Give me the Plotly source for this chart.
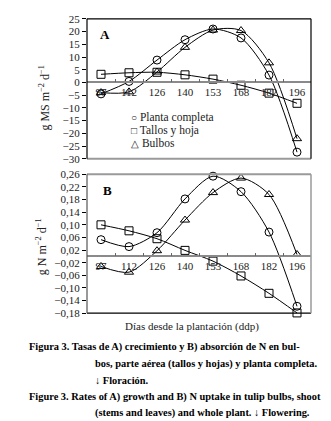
import plotly.graph_objects as go

# ---------------- data ----------------
days = ["97", "112", "126", "140", "153", "168", "182", "196"]
series_names = ["Planta completa", "Tallos y hoja", "Bulbos"]
legend_glyphs = ["○", "□", "△"]
symbols = ["circle-open", "square-open", "triangle-up-open"]

# Panel A: growth rate (g MS m-2 d-1)
planta_A = [-4.5, 0.4, 8.8, 16.8, 21.0, 17.5, 2.9, -27.4]
tallos_A = [3.2, 3.8, 4.0, 3.0, 1.3, -1.1, -4.2, -8.2]
bulbos_A = [-4.0, -3.7, 4.1, 13.8, 20.6, 20.4, 7.7, -22.1]

# Panel B: N uptake rate (g N m-2 d-1)
planta_B = [0.053, 0.031, 0.075, 0.182, 0.254, 0.205, 0.077, -0.158]
tallos_B = [0.100, 0.081, 0.056, 0.019, -0.015, -0.062, -0.117, -0.179]
bulbos_B = [-0.032, -0.050, 0.018, 0.115, 0.202, 0.248, 0.196, 0.006]

ticks_A = [25, 20, 15, 10, 5, 0, -5, -10, -15, -20, -25, -30]
ticks_B = [0.26, 0.22, 0.18, 0.14, 0.10, 0.06, 0.02, -0.02, -0.06, -0.10, -0.14, -0.18]
flowering_days = ["126", "140"]
flowering_A = [10.6, 19.0]
flowering_B = [0.091, 0.202]

W, H = 331, 421
FONT = "Liberation Serif, Times New Roman, serif"


def px(x):
    return x / W


def py(y):
    return 1 - y / H


def fmt_A(v):
    return ("−" + str(abs(v))) if v < 0 else str(v)


def fmt_B(v):
    s = "%.2f" % abs(v)
    s = s.replace(".", ",")
    return ("−" + s) if v < 0 else s


xdom = [px(79), px(303)]
ydomA = [py(149), py(5)]
ydomB = [py(308), py(165)]
rangeA = [-30, 25]
rangeB = [-0.18, 0.26]

fig = go.Figure()

panels = [
    ("x", "y", [planta_A, tallos_A, bulbos_A]),
    ("x2", "y2", [planta_B, tallos_B, bulbos_B]),
]
for xa, ya, series in panels:
    for name, sym, vals in zip(series_names, symbols, series):
        fig.add_trace(go.Scatter(
            x=days, y=vals, name=name, xaxis=xa, yaxis=ya,
            mode="lines+markers", line=dict(color="black", width=1, shape="spline", smoothing=0.8),
            marker=dict(symbol=sym, size=8, color="black", line=dict(width=1, color="black")),
            showlegend=False, cliponaxis=False,
        ))


def zero_pos(dom, rng):
    return dom[0] + (0 - rng[0]) / (rng[1] - rng[0]) * (dom[1] - dom[0])


xcommon = dict(
    type="category", categoryorder="array", categoryarray=days, range=[-0.5, 7.5],
    domain=xdom, anchor="free", showline=True, linecolor="#8a8a8a", linewidth=1.5,
    tickson="boundaries", ticks="inside", ticklen=3, tickcolor="#666",
    tickfont=dict(family=FONT, size=11, color="#222"), showgrid=False, zeroline=False,
)
fig.update_layout(
    xaxis=dict(**xcommon, position=zero_pos(ydomA, rangeA)),
    xaxis2=dict(**xcommon, position=zero_pos(ydomB, rangeB)),
    yaxis=dict(domain=ydomA, range=rangeA, anchor="x", tickvals=ticks_A,
               ticktext=[fmt_A(v) for v in ticks_A], ticks="outside", ticklen=4,
               tickcolor="black", showline=False, showgrid=False, zeroline=False,
               tickfont=dict(family=FONT, size=11, color="#222")),
    yaxis2=dict(domain=ydomB, range=rangeB, anchor="x2", tickvals=ticks_B,
                ticktext=[fmt_B(v) for v in ticks_B], ticks="outside", ticklen=4,
                tickcolor="black", showline=False, showgrid=False, zeroline=False,
                tickfont=dict(family=FONT, size=11, color="#222")),
)

shapes = []


def frame(xref, yref, top, bottom, left, right):
    out = []
    for (x0, y0, x1, y1), (c, w) in [
        ((0, 1, 1, 1), top), ((0, 0, 1, 0), bottom),
        ((0, 0, 0, 1), left), ((1, 0, 1, 1), right)]:
        out.append(dict(type="line", xref=xref + " domain", yref=yref + " domain",
                        x0=x0, y0=y0, x1=x1, y1=y1, line=dict(color=c, width=w)))
    return out


shapes += frame("x", "y", ("black", 1.2), ("#9a9a9a", 2), ("black", 1.2), ("black", 1.2))
shapes += frame("x2", "y2", ("#9a9a9a", 2), ("black", 1.2), ("#555", 1.2), ("#9a9a9a", 1.5))

annotations = []
# flowering arrows
for d, v in zip(flowering_days, flowering_A):
    annotations.append(dict(x=d, y=v, xref="x", yref="y", text="", showarrow=True,
                            ax=0, ay=-16, arrowhead=2, arrowsize=1.1, arrowwidth=1.6,
                            arrowcolor="black"))
for d, v in zip(flowering_days, flowering_B):
    annotations.append(dict(x=d, y=v, xref="x2", yref="y2", text="", showarrow=True,
                            ax=0, ay=-16, arrowhead=2, arrowsize=1.1, arrowwidth=1.6,
                            arrowcolor="black"))


def label(x, y, text, size, xanchor="center", angle=0, color="#222"):
    annotations.append(dict(x=px(x), y=py(y), xref="paper", yref="paper", text=text,
                            showarrow=False, xanchor=xanchor, yanchor="middle",
                            textangle=angle, font=dict(family=FONT, size=size, color=color)))


# panel letters
label(97, 21, "<b>A</b>", 13, color="black")
label(99, 182, "<b>B</b>", 13, color="black")

# legend (text glyph legend)
for i, (g, n) in enumerate(zip(legend_glyphs, series_names)):
    label(121, 107 + 13 * i,
          "<span style='font-size:10px'>" + g + "</span> " + n, 11.5, xanchor="left")

# axis titles
label(37, 86, "g MS m<sup>−2</sup> d<sup>−1</sup>", 12, angle=-90)
label(33, 240, "g N m<sup>−2</sup> d<sup>−1</sup>", 12, angle=-90)
label(184, 322, "Días desde la plantación (ddp)", 11)

# caption
caption = [
    (19, 343, "Figura 3. Tasas de A) crecimiento y B) absorción de N en bul-"),
    (85, 360, "bos, parte aérea (tallos y hojas) y planta completa."),
    (85, 377, "↓ Floración."),
    (19, 394, "Figure 3. Rates of A) growth and B) N uptake in tulip bulbs, shoot"),
    (85, 411, "(stems and leaves) and whole plant. ↓ Flowering."),
]
for x, y, t in caption:
    label(x, y, "<b>" + t + "</b>", 10.4, xanchor="left", color="black")

fig.update_layout(
    width=W, height=H, margin=dict(l=0, r=0, t=0, b=0),
    paper_bgcolor="white", plot_bgcolor="white",
    shapes=shapes, annotations=annotations, showlegend=False,
)

fig.write_html("out.html")
